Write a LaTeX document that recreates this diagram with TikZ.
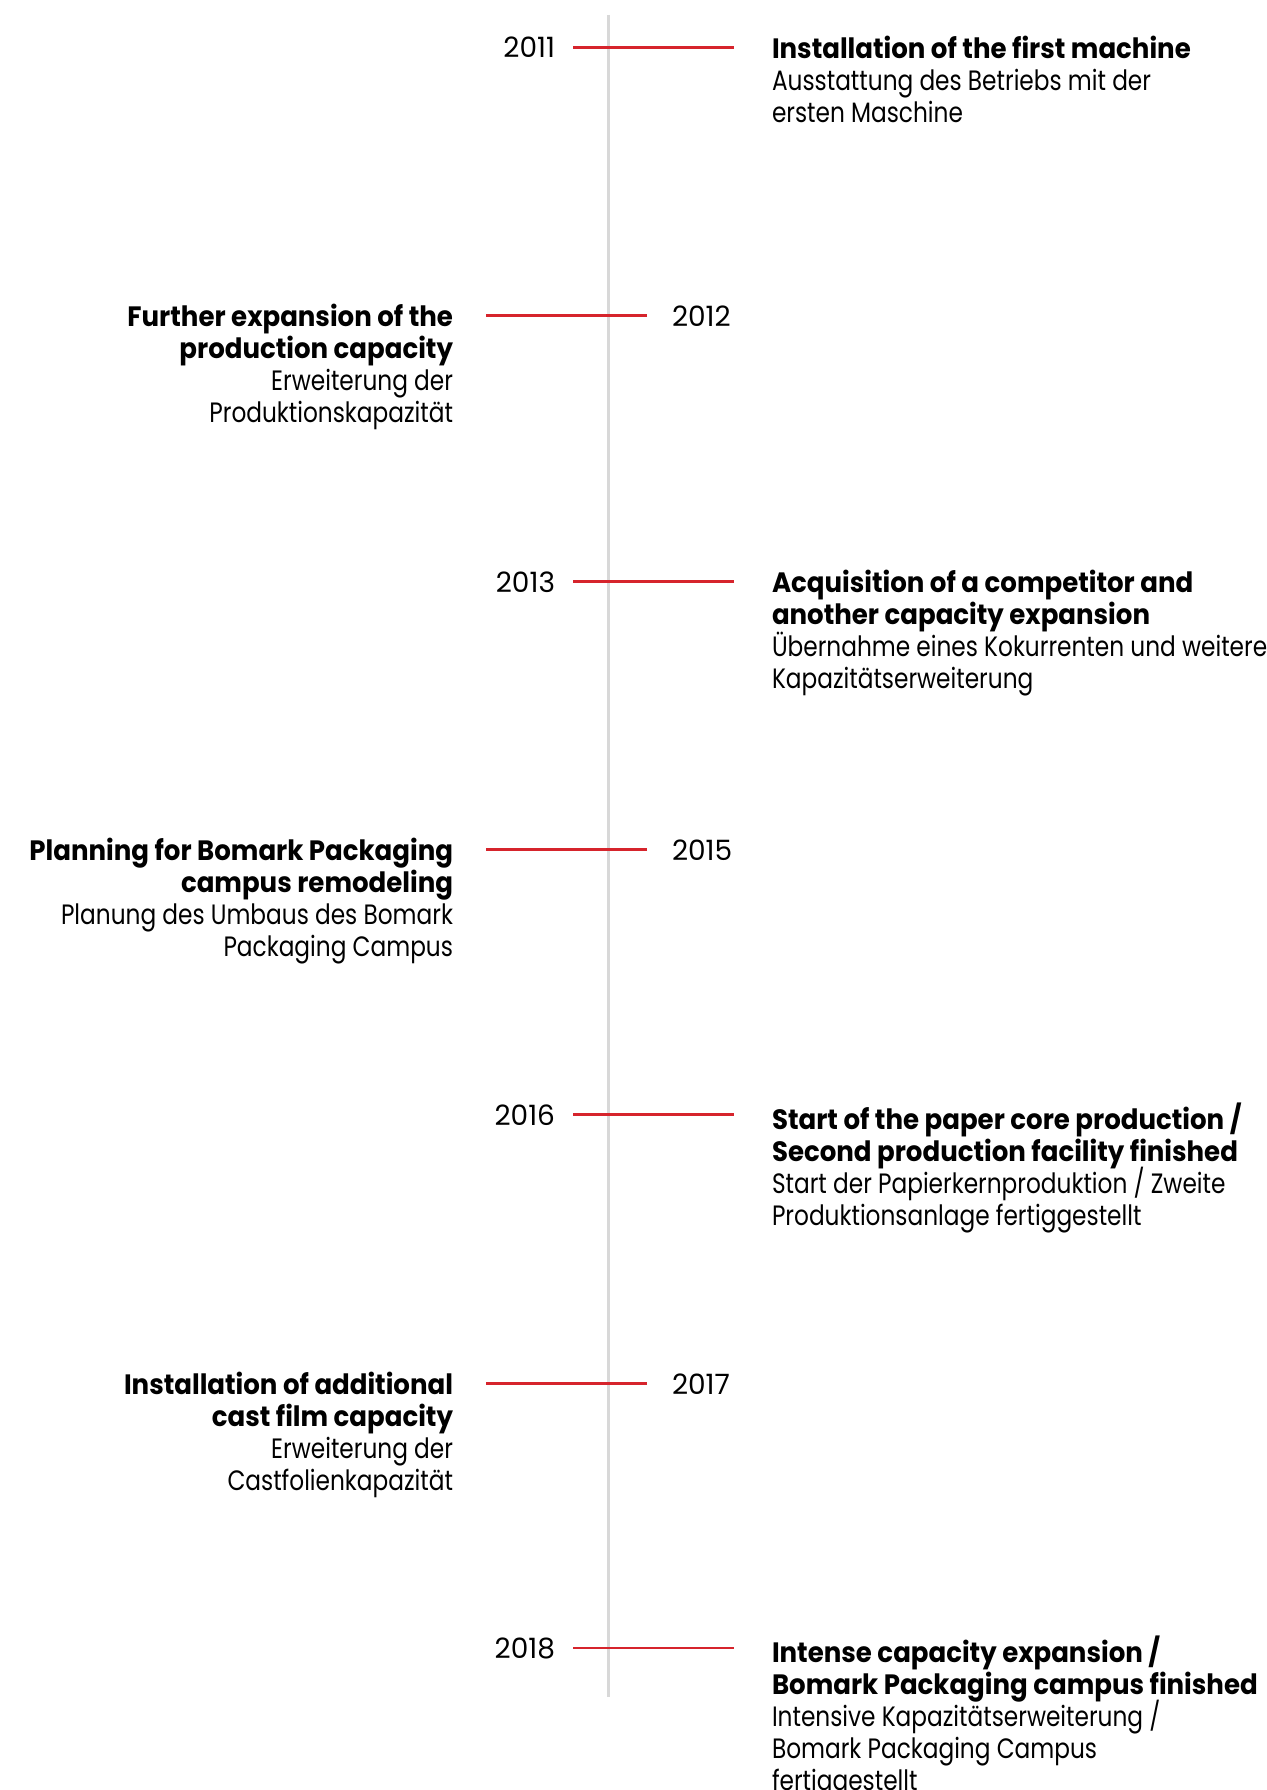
\documentclass[tikz,border=0pt]{standalone}
\usepackage{fontspec}
\setmainfont{Poppins}[FakeStretch=0.83, BoldFeatures={FakeStretch=0.93}]
\newfontfamily\yearfont{Poppins}[Numbers=Monospaced]
\definecolor{tlred}{RGB}{214,36,44}
\definecolor{tlgray}{RGB}{216,216,216}

\begin{document}
\begin{tikzpicture}[x=1pt, y=-1pt, every node/.style={inner sep=0pt, outer sep=0pt},
 year/.style={font=\yearfont\fontsize{28}{32}\selectfont},
 event/.style={font=\fontsize{28}{32}\selectfont,
  execute at begin node={\lineskiplimit=-100pt\lineskip=0pt\rule{0pt}{30pt}}},
 eventr/.style={event, align=left, anchor=north west},
 eventl/.style={event, align=right, anchor=north east},
 tick/.style={draw=tlred, line width=2.6pt},
 spine/.style={draw=tlgray, line width=3pt}]
\useasboundingbox (0,0) rectangle (1266,1790);
\draw[spine] (608,15) -- (608,1697);

% 2011
\node[year, anchor=base east] (y2011) at (555,58) {2011};
\node[eventr] (e2011) at (772,36) {\textbf{Installation of the first machine}\\
Ausstattung des Betriebs mit der\\ersten Maschine};
\draw[tick, shorten <=18pt, shorten >=38pt] (y2011.east) -- (y2011.east -| e2011.west);

% 2012
\node[year, anchor=base west] (y2012) at (672,326) {2012};
\node[eventl] (e2012) at (453,304) {\textbf{Further expansion of the}\\\textbf{production capacity}\\
Erweiterung der\\Produktionskapazität};
\draw[tick, shorten <=25pt, shorten >=33pt] (y2012.west) -- (y2012.west -| e2012.east);

% 2013
\node[year, anchor=base east] (y2013) at (555,592) {2013};
\node[eventr] (e2013) at (772,570) {\textbf{Acquisition of a competitor and}\\\textbf{another capacity expansion}\\
Übernahme eines Kokurrenten und weitere\\Kapazitätserweiterung};
\draw[tick, shorten <=18pt, shorten >=38pt] (y2013.east) -- (y2013.east -| e2013.west);

% 2015
\node[year, anchor=base west] (y2015) at (672,860) {2015};
\node[eventl] (e2015) at (453,838) {\textbf{Planning for Bomark Packaging}\\\textbf{campus remodeling}\\
Planung des Umbaus des Bomark\\Packaging Campus};
\draw[tick, shorten <=25pt, shorten >=33pt] (y2015.west) -- (y2015.west -| e2015.east);

% 2016
\node[year, anchor=base east] (y2016) at (555,1125) {2016};
\node[eventr] (e2016) at (772,1103) {\textbf{Start of the paper core production /}\\\textbf{Second production facility finished}\\
Start der Papierkernproduktion / Zweite\\Produktionsanlage fertiggestellt};
\draw[tick, shorten <=18pt, shorten >=38pt] (y2016.east) -- (y2016.east -| e2016.west);

% 2017
\node[year, anchor=base west] (y2017) at (672,1394) {2017};
\node[eventl] (e2017) at (453,1372) {\textbf{Installation of additional}\\\textbf{cast film capacity}\\
Erweiterung der\\Castfolienkapazität};
\draw[tick, shorten <=25pt, shorten >=33pt] (y2017.west) -- (y2017.west -| e2017.east);

% 2018
\node[year, anchor=base east] (y2018) at (555,1658) {2018};
\node[eventr] (e2018) at (772,1636) {\textbf{Intense capacity expansion /}\\\textbf{Bomark Packaging campus finished}\\
Intensive Kapazitätserweiterung /\\Bomark Packaging Campus\\fertiggestellt};
\draw[tick, shorten <=18pt, shorten >=38pt] (y2018.east) -- (y2018.east -| e2018.west);
\end{tikzpicture}
\end{document}
